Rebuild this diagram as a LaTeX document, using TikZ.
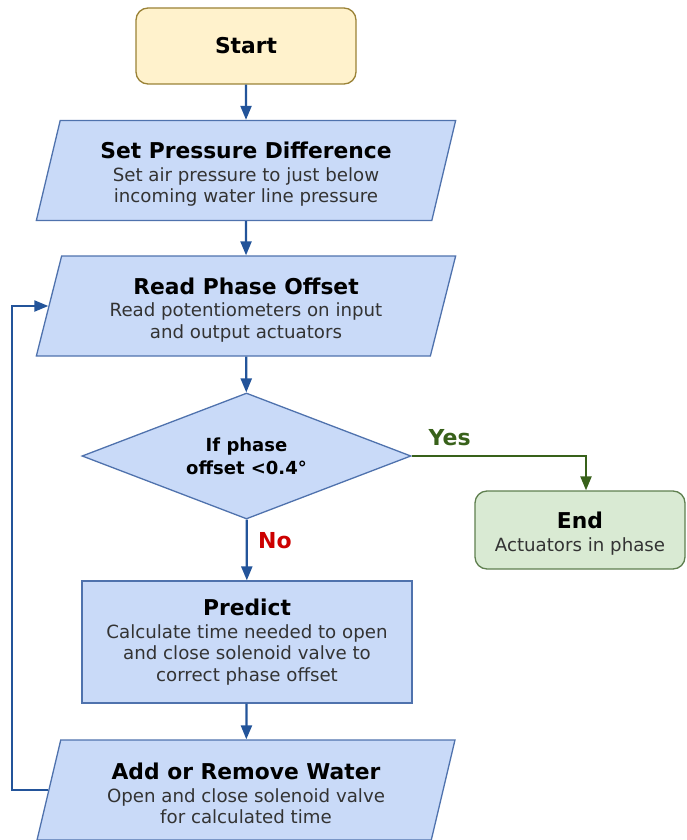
\documentclass[tikz,border=0pt]{standalone}
\usepackage{fontspec}
\setmainfont{DejaVu Sans}
\usetikzlibrary{shapes.geometric,arrows.meta}
\definecolor{startfill}{HTML}{FFF2CC}
\definecolor{startdraw}{HTML}{9A8236}
\definecolor{bluefill}{HTML}{C9DAF8}
\definecolor{bluedraw}{HTML}{4F72AD}
\definecolor{arrowblue}{HTML}{23549A}
\definecolor{greenfill}{HTML}{D9EAD3}
\definecolor{greendraw}{HTML}{5F7F4F}
\definecolor{yesgreen}{HTML}{38611A}
\definecolor{nored}{HTML}{CC0000}
\definecolor{subgray}{HTML}{333333}
\newcommand\ttlA[1]{{\fontsize{21.8}{21.5}\selectfont\bfseries #1}}
\newcommand\ttlB[1]{{\fontsize{21.8}{21.5}\selectfont\bfseries\rule{0pt}{24pt}#1}}
\newcommand\subA[1]{{\color{subgray}#1}}
\begin{document}
\begin{tikzpicture}[x=1pt,y=-1pt,
  txt/.style={font=\fontsize{18.2}{21.5}\selectfont,align=center,inner sep=0pt},
  startbox/.style={txt,draw=startdraw,fill=startfill,line width=1.3pt,rounded corners=12pt,
    minimum width=220pt,minimum height=76pt},
  iobox/.style={txt,trapezium,trapezium left angle=75.4,trapezium right angle=104.6,
    trapezium stretches=true,draw=bluedraw,fill=bluefill,line width=1.3pt,
    minimum width=420pt,minimum height=100pt},
  procbox/.style={txt,draw=bluedraw,fill=bluefill,line width=1.3pt,
    minimum width=330pt,minimum height=122pt},
  decbox/.style={diamond,draw=bluedraw,fill=bluefill,line width=1.3pt,
    minimum width=329pt,minimum height=126pt,align=center,inner sep=0pt,aspect=2.6,
    font=\fontsize{18}{23}\selectfont\bfseries},
  endbox/.style={txt,draw=greendraw,fill=greenfill,line width=1.3pt,rounded corners=12pt,
    minimum width=210pt,minimum height=78pt},
  arr/.style={draw=arrowblue,line width=2.2pt,-{Triangle[length=14pt,width=11pt]}},
  yesarr/.style={draw=yesgreen,line width=2.2pt,-{Triangle[length=14pt,width=11pt]}},
  lbl/.style={font=\fontsize{22}{24}\selectfont\bfseries}
]
\useasboundingbox (0,0) rectangle (686,840);

\node[startbox] (S) at (246,46) {\ttlA{Start}};
\node[iobox] (P) at (246,170.5) {\ttlB{Set Pressure Difference}\\[1pt]\subA{Set air pressure to just below}\\\subA{incoming water line pressure}};
\node[iobox] (R) at (246,306) {\ttlB{Read Phase Offset}\\[1pt]\subA{Read potentiometers on input}\\\subA{and output actuators}};
\node[decbox] (D) at (246.5,456) {If phase\\offset <0.4°};
\node[endbox] (E) at (580,530) {\ttlB{End}\\[1pt]\subA{Actuators in phase}};
\node[procbox] (Q) at (247,642) {\ttlA{Predict}\\[1pt]\subA{Calculate time needed to open}\\\subA{and close solenoid valve to}\\\subA{correct phase offset}};
\node[iobox] (W) at (246,790) {\ttlB{Add or Remove Water}\\[1pt]\subA{Open and close solenoid valve}\\\subA{for calculated time}};

\coordinate (loopx) at (12,0);

\draw[arr] (S) -- (P);
\draw[arr] (P) -- (R);
\draw[arr] (R) -- (D);
\draw[arr] (D) -- node[pos=0.35,right=7pt,lbl,text=nored]{No} (Q);
\draw[arr] (Q) -- (W);
\draw[yesarr] (D.east) -| node[pos=0.109,above=6pt,lbl,text=yesgreen]{Yes} ([xshift=6pt]E.north);
\draw[arr] (W.west) -- (W.west -| loopx) |- (R.west);
\end{tikzpicture}
\end{document}
